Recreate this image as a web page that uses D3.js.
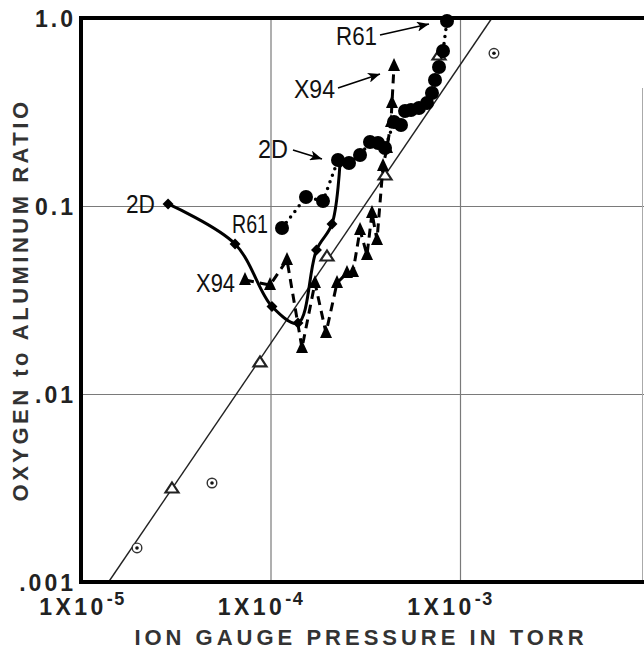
<!DOCTYPE html>
<html><head><meta charset="utf-8">
<script src="https://cdn.jsdelivr.net/npm/d3@7"></script>
<style>
html,body{margin:0;padding:0;background:#fff;}
svg{display:block;}
</style></head>
<body><svg id="chart" width="644" height="649"></svg>
<script>
// ---------- data ----------
const xTickValues = [1e-5, 1e-4, 1e-3];
const xTickExponents = ["-5", "-4", "-3"];
const yTickValues = [1, 0.1, 0.01, 0.001];
const yTickLabels = ["1.0", "0.1", ".01", ".001"];
const xGridValues = [1e-4, 1e-3];
const yGridValues = [0.1, 0.01];

// 2D : filled diamonds, solid line
const series2D = [[2.88e-5,0.1025],[6.50e-5,0.0628],[1.018e-4,0.0292],[1.397e-4,0.02386],
  [1.748e-4,0.0583],[2.111e-4,0.0802],[2.327e-4,0.1693]];
// R61 : filled circles, dotted line
const seriesR61 = [[1.150e-4,0.0764],[1.539e-4,0.1116],[1.892e-4,0.1063],[2.271e-4,0.1757],
  [2.596e-4,0.1693],[2.968e-4,0.1867],[3.350e-4,0.2190],[3.693e-4,0.2163],[4.021e-4,0.2035],
  [4.485e-4,0.2797],[4.883e-4,0.2697],[5.128e-4,0.3201],[5.512e-4,0.3240],[6.075e-4,0.3321],
  [6.697e-4,0.3530],[7.115e-4,0.3993],[7.380e-4,0.4680],[7.748e-4,0.5486],[8.134e-4,0.6677],
  [8.54e-4,0.964]];
// X94 : filled triangles, dashed line
const seriesX94 = [[7.335e-5,0.0404],[9.94e-5,0.0380],[1.222e-4,0.0516],[1.466e-4,0.01757],
  [1.717e-4,0.0390],[1.963e-4,0.0211],[2.244e-4,0.0390],[2.533e-4,0.0440],[2.725e-4,0.0446],
  [2.968e-4,0.0745],[3.230e-4,0.0549],[3.432e-4,0.0918],[3.648e-4,0.0659],[3.924e-4,0.1632],
  [4.119e-4,0.2035],[4.323e-4,0.2797],[4.376e-4,0.3530],[4.485e-4,0.5554]];
// open triangles
const seriesOpenTri = [[3.021e-5,0.003162],[8.80e-5,0.01481],[1.987e-4,0.0542],[4.021e-4,0.1462],[7.748e-4,0.6357]];
// dotted circles
const seriesDotCircle = [[1.975e-5,0.001517],[4.912e-5,0.003362],[1.511e-3,0.649]];
// straight reference line
const refLine = [[1.398e-5,0.001],[1.475e-3,1]];

// annotation labels (text, x, y at right end / baseline)
const labelTexts = ["2D", "R61", "X94", "2D", "X94", "R61"];
const labelX = [2.458e-5, 9.70e-5, 6.50e-5, 1.237e-4, 2.190e-4, 3.648e-4];
const labelY = [0.0918, 0.0719, 0.0349, 0.180, 0.3754, 0.7184];
// arrows [x1,y1,x2,y2]
const arrows = [[1.314e-4,0.1985,1.870e-4,0.1778],[2.271e-4,0.4243,3.783e-4,0.5037],[3.783e-4,0.812,6.861e-4,0.929]];

// ---------- layout ----------
const svg = d3.select("#chart");
const L = 81, T = 18, B = 582;
const x = d3.scaleLog().domain([1e-5, 1e-2]).range([L, L + 3 * 189.5]);
const y = d3.scaleLog().domain([1e-3, 1]).range([B, T]);

// gridlines
svg.append("g").attr("transform", `translate(0,${B})`)
  .call(d3.axisBottom(x).tickValues(xGridValues).tickSize(-(B - T)).tickFormat(""))
  .call(g => g.select(".domain").remove())
  .call(g => g.selectAll("line").attr("stroke", "#7a7a7a").attr("stroke-width", 1.2));
svg.append("g").attr("transform", `translate(${L},0)`)
  .call(d3.axisLeft(y).tickValues(yGridValues).tickSize(-(650 - L)).tickFormat(""))
  .call(g => g.select(".domain").remove())
  .call(g => g.selectAll("line").attr("stroke", "#7a7a7a").attr("stroke-width", 1.2));
// right faint border
svg.append("line").attr("x1", 642.5).attr("x2", 642.5).attr("y1", 88).attr("y2", B)
  .attr("stroke", "#aaa").attr("stroke-width", 1);

// reference line
const line = d3.line().x(d => x(d[0])).y(d => y(d[1]));
svg.append("path").datum(refLine).attr("d", line).attr("fill", "none")
  .attr("stroke", "#222").attr("stroke-width", 1.4);

// open triangles
svg.append("g").selectAll("path").data(seriesOpenTri).join("path")
  .attr("transform", d => `translate(${x(d[0])},${y(d[1])})`)
  .attr("d", "M0,-5.5L6.5,4.5L-6.5,4.5Z").attr("fill", "#fff")
  .attr("stroke", "#222").attr("stroke-width", 2.2).attr("stroke-linejoin", "miter");

// dotted circles
const dc = svg.append("g").selectAll("g").data(seriesDotCircle).join("g")
  .attr("transform", d => `translate(${x(d[0])},${y(d[1])})`);
dc.append("circle").attr("r", 4.8).attr("fill", "#fff").attr("stroke", "#333").attr("stroke-width", 1.4);
dc.append("circle").attr("r", 1.8).attr("fill", "#111");

// X94 dashed
svg.append("path").datum(seriesX94).attr("d", line).attr("fill", "none")
  .attr("stroke", "#000").attr("stroke-width", 3).attr("stroke-dasharray", "9,6");
svg.append("g").selectAll("path").data(seriesX94).join("path")
  .attr("transform", d => `translate(${x(d[0])},${y(d[1])})`)
  .attr("d", "M0,-8L6,5L-6,5Z").attr("fill", "#000");

// 2D solid curve
svg.append("path").datum(series2D)
  .attr("d", d3.line().x(d => x(d[0])).y(d => y(d[1])).curve(d3.curveCatmullRom.alpha(0.5)))
  .attr("fill", "none").attr("stroke", "#000").attr("stroke-width", 3);
svg.append("g").selectAll("path").data(series2D).join("path")
  .attr("transform", d => `translate(${x(d[0])},${y(d[1])}) rotate(45)`)
  .attr("d", d3.symbol(d3.symbolSquare, 60)).attr("fill", "#000");

// R61 dotted
svg.append("path").datum(seriesR61).attr("d", line).attr("fill", "none")
  .attr("stroke", "#000").attr("stroke-width", 3.5).attr("stroke-dasharray", "0,7")
  .attr("stroke-linecap", "round");
svg.append("g").selectAll("circle").data(seriesR61).join("circle")
  .attr("cx", d => x(d[0])).attr("cy", d => y(d[1])).attr("r", 7).attr("fill", "#000");

// frame
svg.append("path").attr("d", `M${L},${T}H644M${L},${T}V${B}H644`)
  .attr("fill", "none").attr("stroke", "#000").attr("stroke-width", 4).attr("stroke-linecap", "square");

// y tick labels
svg.append("g").attr("transform", `translate(${L},0)`)
  .call(d3.axisLeft(y).tickValues(yTickValues).tickSize(0).tickPadding(5)
    .tickFormat((d, i) => yTickLabels[i]))
  .call(g => g.select(".domain").remove())
  .call(g => g.selectAll("text").attr("font-family", "Liberation Sans, Arial, sans-serif")
    .attr("font-weight", "bold").attr("font-size", 23).attr("fill", "#222")
    .attr("letter-spacing", 3).attr("dy", "0.36em"));

// x tick labels with superscripts
const xOffsets = [0, -11, -11];
const xt = svg.append("g").attr("transform", `translate(0,${B})`)
  .call(d3.axisBottom(x).tickValues(xTickValues).tickSize(0).tickFormat(""))
  .call(g => g.select(".domain").remove());
xt.selectAll(".tick").each(function(d, i) {
  const t = d3.select(this).append("text")
    .attr("x", xOffsets[i] + 1).attr("y", 33).attr("text-anchor", "middle")
    .attr("font-family", "Liberation Sans, Arial, sans-serif").attr("font-weight", "bold")
    .attr("fill", "#222");
  t.append("tspan").attr("font-size", 23).attr("letter-spacing", 3.5).text("1X10");
  t.append("tspan").attr("font-size", 18).attr("letter-spacing", 1.5).attr("dy", -10).text(xTickExponents[i]);
});

// axis titles
svg.append("text").attr("x", 361).attr("y", 645).attr("text-anchor", "middle")
  .attr("font-family", "Liberation Sans, Arial, sans-serif").attr("font-weight", "bold")
  .attr("font-size", 22).attr("letter-spacing", 4).attr("fill", "#333")
  .text("ION GAUGE PRESSURE IN TORR");
svg.append("text").attr("transform", "translate(28,300) rotate(-90)").attr("text-anchor", "middle")
  .attr("font-family", "Liberation Sans, Arial, sans-serif").attr("font-weight", "bold")
  .attr("font-size", 22).attr("letter-spacing", 3.5).attr("fill", "#333")
  .text("OXYGEN to ALUMINUM RATIO");

// annotation labels
const labelWidths = [29, 36, 39, 30, 41, 41];
svg.append("g").selectAll("text").data(labelTexts).join("text")
  .attr("x", (d, i) => x(labelX[i]) - labelWidths[i]).attr("y", (d, i) => y(labelY[i]))
  .attr("textLength", (d, i) => labelWidths[i]).attr("lengthAdjust", "spacingAndGlyphs")
  .attr("font-family", "Liberation Sans Narrow, Arial Narrow, sans-serif")
  .attr("font-size", 26).attr("fill", "#111").text(d => d);

// arrows
const defs = svg.append("defs");
defs.append("marker").attr("id", "ah").attr("viewBox", "0 0 12 10").attr("refX", 12).attr("refY", 5)
  .attr("markerWidth", 12).attr("markerHeight", 10).attr("markerUnits", "userSpaceOnUse")
  .attr("orient", "auto")
  .append("path").attr("d", "M0,0L12,5L0,10L3,5Z").attr("fill", "#000");
svg.append("g").selectAll("line").data(arrows).join("line")
  .attr("x1", d => x(d[0])).attr("y1", d => y(d[1]))
  .attr("x2", d => x(d[2])).attr("y2", d => y(d[3]))
  .attr("stroke", "#000").attr("stroke-width", 1.6).attr("marker-end", "url(#ah)");
</script></body></html>
